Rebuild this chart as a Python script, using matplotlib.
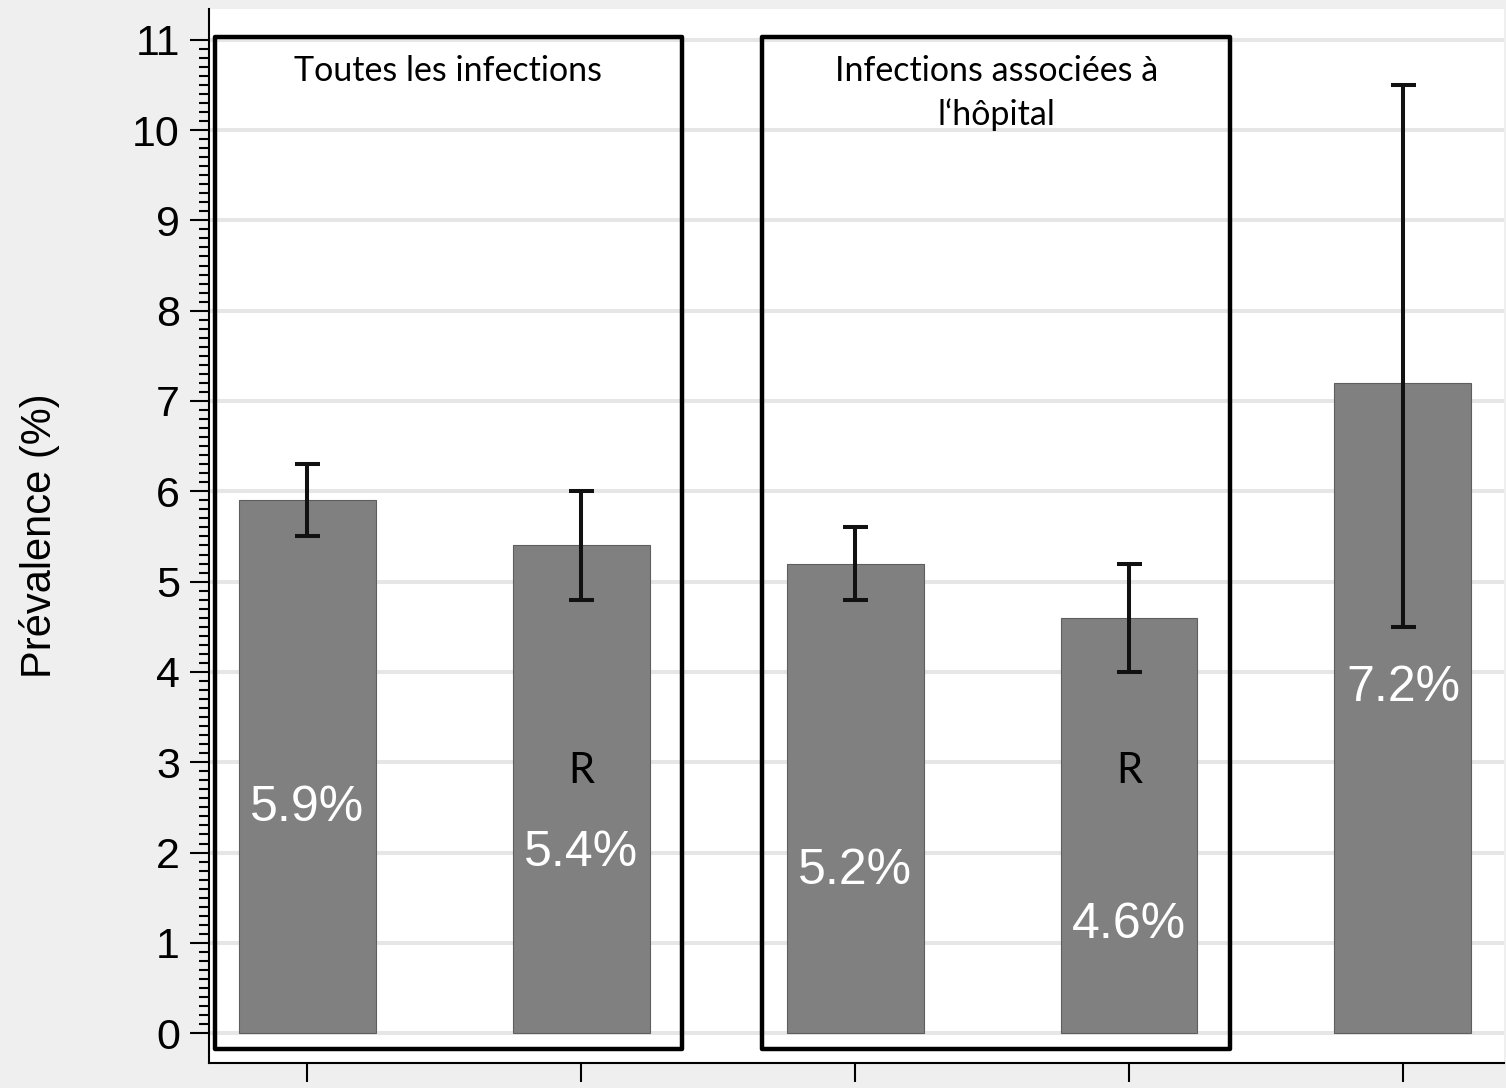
import matplotlib
matplotlib.use("Agg")
import matplotlib.pyplot as plt
from matplotlib.patches import Rectangle
from matplotlib.ticker import MultipleLocator, FixedLocator
import numpy as np

# data
positions = [1, 2, 3, 4, 5]
prevalence = [5.9, 5.4, 5.2, 4.6, 7.2]
ci_low = [5.5, 4.8, 4.8, 4.0, 4.5]
ci_high = [6.3, 6.0, 5.6, 5.2, 10.5]
value_labels = ["5.9%", "5.4%", "5.2%", "4.6%", "7.2%"]
r_marked = [False, True, False, True, False]
group_titles = ["Toutes les infections", "Infections associées à\nl\u2018hôpital"]
group_members = [(1, 2), (3, 4)]

# layout
label_y = [2.49, 2.0, 1.8, 1.2, 3.82]
r_y = 2.9

fig = plt.figure(figsize=(15.06, 10.88), dpi=100, facecolor="#efefef")
ax = fig.add_axes([0.1388, 0.0230, 0.8599, 0.9687])
ax.set_facecolor("white")

yerr = [[p - lo for p, lo in zip(prevalence, ci_low)],
        [hi - p for p, hi in zip(prevalence, ci_high)]]
ax.bar(positions, prevalence, width=0.5, color="#808080", edgecolor="#5e5e5e",
       linewidth=0.8, zorder=2)
ax.errorbar(positions, prevalence, yerr=yerr, fmt="none", ecolor="#111111",
            elinewidth=2.9, capsize=9, capthick=2.9, zorder=3)

sans = ["Liberation Sans", "DejaVu Sans"]
for x, lab, ly, r in zip(positions, value_labels, label_y, r_marked):
    ax.text(x, ly, lab, color="white", fontsize=36, ha="center", va="center",
            family=sans, zorder=4)
    if r:
        ax.text(x, r_y, "R", color="black", fontsize=30, ha="center",
                va="center", family="Lato", zorder=4)

# boxes around the two groups
for (a, b), title in zip(group_members, group_titles):
    left, right = a - 0.338, b + 0.37
    ax.add_patch(Rectangle((left, -0.18), right - left, 11.21, fill=False,
                           edgecolor="black", linewidth=3.2, joinstyle="round",
                           zorder=5, clip_on=False))
    ax.text((left + right) / 2, 10.83, title, ha="center", va="top",
            fontsize=24.5, family="Lato", linespacing=1.4, zorder=5)

ax.set_xlim(0.642, 5.369)
ax.set_ylim(-0.33, 11.34)
ax.set_xticks(positions)
ax.set_xticklabels([])
ax.yaxis.set_major_locator(MultipleLocator(1))
ax.yaxis.set_minor_locator(FixedLocator(np.round(np.arange(0, 11.01, 0.1), 2)))
ax.tick_params(axis="y", which="major", length=14, width=1.5, labelsize=31,
               pad=7)
ax.tick_params(axis="y", which="minor", length=7, width=1.5)
ax.tick_params(axis="x", which="major", length=14, width=1.5)
for lab in ax.get_yticklabels():
    lab.set_family(sans)
ax.grid(axis="y", color="#e6e6e6", linewidth=2.9, zorder=0)
ax.set_axisbelow(True)

for s in ["top", "right"]:
    ax.spines[s].set_visible(False)
ax.spines["left"].set_linewidth(1.5)
ax.spines["bottom"].set_linewidth(1.5)

ax.set_ylabel("Prévalence (%)", fontsize=30, family=sans)
ax.yaxis.set_label_coords(-0.115, 0.5)

fig.savefig("out.png", dpi=100, facecolor=fig.get_facecolor())
